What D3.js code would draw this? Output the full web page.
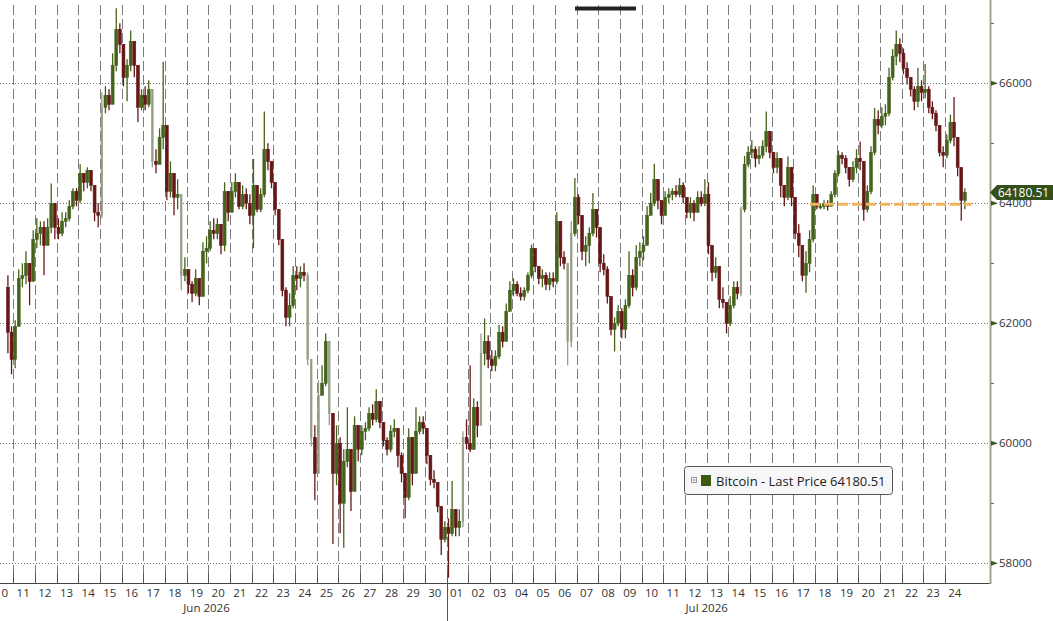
<!DOCTYPE html>
<html><head><meta charset="utf-8">
<script src="https://cdn.jsdelivr.net/npm/d3@7"></script>
<style>html,body{margin:0;padding:0;background:#fff;overflow:hidden}</style>
</head><body><svg id="chart" width="1053" height="621"></svg>
<script>
// ---------- data (4-hour bars, Bitcoin) ----------
const startTime = "2026-06-10T16:00:00Z";
const barHours = 4;
const firstOpen = 62600;
const closes = [
 61850,61400,
 61950,62750,62800,63000,62700,63400,
 63500,63600,63300,63600,64000,63600,
 63500,63700,63750,63950,64200,64050,
 64500,64350,64550,64300,63850,63800,
 65600,65800,65650,66300,66900,66650,
 66100,66300,66700,66300,65600,65800,
 65650,65900,64700,64650,65100,65300,
 64200,64500,64100,64150,62800,62900,
 62650,62500,62750,62450,63200,63250,
 63550,63500,63650,63300,64200,63850,
 64200,64350,63950,64150,64000,63800,
 64300,63900,64150,64900,64700,64350,
 63900,63400,62550,62100,62300,62800,
 62750,62850,62800,61400,60100,59500,
 60800,61000,61700,60500,59500,60000,
 59000,59700,59900,59200,60300,59900,
 60200,60250,60500,60400,60700,60350,
 60050,59900,60200,60250,59800,59500,
 59100,60100,59500,60200,60350,60250,
 59800,59400,59350,58950,58400,58600,
 58500,58900,58600,58700,60100,60000,
 59900,60600,60300,61500,61700,61400,
 61300,61450,61850,61700,62200,62550,
 62650,62500,62450,62550,62800,63250,
 62950,62750,62800,62650,62750,62700,
 63700,63100,63000,61700,63500,64100,
 63800,63200,63300,63500,63900,63600,
 63000,62900,62450,61900,62000,62200,
 61900,62300,62800,62600,63100,63200,
 63300,63800,64000,64400,64050,63800,
 64100,64150,64200,64150,64300,64100,
 63850,64000,63850,64100,64000,64150,
 63300,62850,62950,62400,62350,62000,
 62300,62600,62500,63900,64650,64850,
 64900,64750,64800,64950,65200,64850,
 64600,64750,64300,64100,64600,64100,
 63500,63300,62800,63000,63400,64150,
 63950,63950,63980,63950,64150,64500,
 64800,64750,64600,64400,64600,64750,
 64700,63900,64200,64850,65400,65300,
 65450,65500,66100,66450,66650,66500,
 66250,66100,65900,65700,65950,65850,
 65900,65600,65500,65300,64850,64800,
 65050,65350,65100,64600,64050,64180.51
];
const highs = [
 62800,61950,
 62050,62900,63000,63200,62950,63550,
 63750,63700,63700,63750,64330,63900,
 63750,63850,63850,64050,64250,64250,
 64650,64500,64600,64550,64300,64000,
 65850,65950,65900,66500,67250,67000,
 66500,66400,66880,66650,66100,65900,
 65950,66050,65800,64900,65250,66360,
 65200,64700,64500,64400,64100,63100,
 62850,62700,62900,62750,63350,63450,
 63700,63750,63750,63650,64350,64200,
 64350,64500,64300,64300,64250,64150,
 64740,64300,64250,65530,65000,64700,
 64350,63900,63400,62600,62500,62950,
 62950,62950,63000,62850,61400,60300,
 61050,61300,61830,61700,60500,60300,
 60100,59900,60600,59900,60450,60300,
 60300,60350,60600,60650,60900,60700,
 60300,60100,60300,60400,60250,59850,
 59500,60250,60050,60600,60450,60450,
 60250,59800,59550,59350,58950,58700,
 58750,59370,58900,58900,60200,60400,
 61300,60750,60700,61830,62080,61800,
 61550,61550,61970,61950,62330,62700,
 62750,62700,62600,62600,62850,63310,
 63250,62950,62900,62850,62850,62850,
 63850,63600,63200,63000,63700,64420,
 64150,63800,63450,63600,64170,63900,
 63600,63150,62950,62450,62100,62300,
 62250,62400,63200,62900,63300,63350,
 63450,63950,64170,64660,64400,64050,
 64200,64250,64250,64300,64420,64350,
 64100,64100,64050,64200,64200,64400,
 64350,63300,63100,62950,62600,62300,
 62450,62700,62700,63950,64790,64950,
 65050,64950,64950,65050,65530,65200,
 64850,64850,64700,64300,64780,64600,
 64100,63650,63300,63200,63550,64300,
 64150,64000,64050,64050,64200,64550,
 64880,64850,64800,64600,64700,64900,
 65030,64700,64300,64950,65590,65550,
 65600,65650,66260,66570,66880,66750,
 66580,66350,66100,65950,66260,66050,
 66320,65950,65700,65550,65300,64950,
 65150,65480,65770,65100,64600,64250
];
const lows = [
 61500,61150,
 61250,62000,62600,62650,62300,62700,
 63250,63300,62800,63350,63500,63400,
 63400,63450,63600,63700,63900,63950,
 64000,64200,64250,64200,63700,63600,
 63750,65500,65550,65650,66200,66500,
 65950,65700,66200,66100,65350,65550,
 65550,65600,64600,64500,64650,64900,
 64050,64100,63800,63900,62550,62700,
 62500,62350,62450,62300,62450,63000,
 63200,63400,63400,63150,63200,63700,
 63850,64100,63900,63900,63900,63650,
 63250,63850,63850,64100,64550,64250,
 63800,63300,62450,61950,61950,62250,
 62550,62600,62700,61300,59950,59050,
 59500,60800,60950,60300,58320,59300,
 58500,58260,59600,58870,59200,59700,
 59800,60050,60200,60300,60350,60250,
 59950,59800,59850,60100,59600,59350,
 58750,59050,59300,59500,60150,60150,
 59650,59300,59250,58850,58140,58350,
 57760,58450,58450,58450,58600,59900,
 59850,59950,60100,60300,61300,61250,
 61200,61200,61400,61600,61700,62200,
 62450,62450,62380,62380,62500,62750,
 62850,62650,62600,62550,62550,62600,
 62650,62950,62900,61300,61600,63450,
 63650,63050,62950,63000,63450,63430,
 62850,62800,62330,61800,61530,61950,
 61750,61750,62250,62450,62550,62950,
 63050,63300,63800,63950,63900,63650,
 63800,64000,64050,64100,64100,64000,
 63750,63750,63700,63850,63950,63950,
 63150,62700,62750,62250,62250,61830,
 61950,62250,62400,62450,63850,64600,
 64750,64600,64650,64750,64850,64750,
 64500,64500,64100,63950,64050,63950,
 63400,63100,62700,62510,62850,63350,
 63900,63900,63900,63880,63950,64100,
 64450,64650,64500,64280,64350,64500,
 64550,63710,63850,64150,64800,65150,
 65250,65300,65450,66050,66300,66350,
 66150,65980,65780,65550,65600,65700,
 65750,65500,65400,65200,64780,64600,
 64750,65000,64950,64450,63710,63900
];
const seriesName = "Bitcoin - Last Price";
const lastPrice = 64180.51;
const yMajorTicks = [58000, 60000, 62000, 64000, 66000];
const yMinorTicks = [59000, 61000, 63000, 65000, 67000];
const xDomain = ["2026-06-10T00:00:00Z", "2026-07-25T00:00:00Z"];
const dayTickRange = ["2026-06-11T00:00:00Z", "2026-07-25T00:00:00Z"];
const monthLabels = ["Jun 2026", "Jul 2026"];
const monthLabelDates = ["2026-06-19T22:00:00Z", "2026-07-13T00:00:00Z"];
const monthSeparator = "2026-07-01T00:00:00Z";
const supportLevel = 63985;
const supportRange = ["2026-07-17T18:30:00Z", "2026-07-25T05:30:00Z"];

// ---------- layout ----------
const W = 1053, H = 621;
const plotRight = 990, plotBottom = 583;
const FONT = "'Open Sans', 'DejaVu Sans', sans-serif";

const svg = d3.select("#chart");
const x = d3.scaleUtc().domain(xDomain.map(d => new Date(d))).range([-8.33, 966.67]);
const y = d3.scaleLinear().domain([57672, 67388]).range([plotBottom, 0]);

const t0 = new Date(startTime);
const bars = closes.map((c, i) => {
  const o = i === 0 ? firstOpen : closes[i - 1];
  const t = d3.utcHour.offset(t0, i * barHours);
  return { t, mid: d3.utcHour.offset(t, barHours / 2), o, c,
    h: Math.max(highs[i], o, c), l: Math.min(lows[i], o, c) };
});

svg.append("defs").append("clipPath").attr("id", "plotClip")
  .append("rect").attr("x", 0).attr("y", 0).attr("width", plotRight).attr("height", plotBottom);

// horizontal dotted grid
svg.append("g").selectAll("line").data(yMajorTicks).join("line")
  .attr("x1", 0).attr("x2", plotRight)
  .attr("y1", d => Math.round(y(d)) + 0.5).attr("y2", d => Math.round(y(d)) + 0.5)
  .attr("stroke", "#6e6e6e").attr("stroke-width", 1).attr("stroke-dasharray", "1,2");

// vertical dashed day grid
const days = d3.utcDay.range(new Date(dayTickRange[0]), new Date(dayTickRange[1]));
svg.append("g").selectAll("line").data(days).join("line")
  .attr("x1", d => Math.round(x(d)) + 0.5).attr("x2", d => Math.round(x(d)) + 0.5)
  .attr("y1", 5).attr("y2", plotBottom - 10)
  .attr("stroke", "#7c7c7c").attr("stroke-width", 1).attr("stroke-dasharray", "10,4");

// candles
const slot = x(d3.utcHour.offset(t0, barHours)) - x(t0);
const bw = slot * 0.8;
const cg = svg.append("g").attr("clip-path", "url(#plotClip)");
const isBig = b => Math.abs(b.c - b.o) > 1100;
const baseColor = b => b.c >= b.o ? "#45631a" : "#661818";
const colorOf = b => isBig(b) ? "#959d88" : baseColor(b);
const widthOf = b => isBig(b) ? 1.6 : bw;
cg.selectAll("line.wick").data(bars).join("line").attr("class", "wick")
  .attr("x1", b => x(b.mid)).attr("x2", b => x(b.mid))
  .attr("y1", b => y(b.h)).attr("y2", b => y(b.l))
  .attr("stroke", colorOf).attr("stroke-width", 1.3);
cg.selectAll("rect.body").data(bars).join("rect").attr("class", "body")
  .attr("x", b => x(b.mid) - widthOf(b) / 2).attr("width", widthOf)
  .attr("y", b => y(Math.max(b.o, b.c)))
  .attr("height", b => Math.max(1.5, Math.abs(y(b.o) - y(b.c))))
  .attr("fill", colorOf).attr("stroke", colorOf).attr("stroke-width", 0.6);

// support dashed orange line
svg.append("line")
  .attr("x1", x(new Date(supportRange[0]))).attr("x2", x(new Date(supportRange[1])))
  .attr("y1", y(supportLevel)).attr("y2", y(supportLevel))
  .attr("stroke", "#f0b45c").attr("stroke-width", 3).attr("stroke-dasharray", "10,4");

// bottom axis
const xAxisG = svg.append("g");
xAxisG.append("line").attr("x1", 0).attr("x2", plotRight)
  .attr("y1", plotBottom + 0.5).attr("y2", plotBottom + 0.5).attr("stroke", "#444");
xAxisG.selectAll("line.tick").data(days).join("line").attr("class", "tick")
  .attr("x1", d => Math.round(x(d)) + 0.5).attr("x2", d => Math.round(x(d)) + 0.5)
  .attr("y1", plotBottom - 10).attr("y2", plotBottom)
  .attr("stroke", "#555");
const sepX = Math.round(x(new Date(monthSeparator))) + 0.5;
xAxisG.append("line").attr("x1", sepX).attr("x2", sepX)
  .attr("y1", plotBottom - 10).attr("y2", H).attr("stroke", "#555");
const labelDays = d3.utcDay.range(new Date(xDomain[0]), new Date(dayTickRange[1]));
xAxisG.selectAll("text.day").data(labelDays).join("text").attr("class", "day")
  .attr("x", d => x(d3.utcHour.offset(d, 12)) - 1).attr("y", 597)
  .attr("text-anchor", "middle").attr("font-family", FONT).attr("font-size", 11.5)
  .attr("fill", "#333").text(d3.utcFormat("%d"));
xAxisG.selectAll("text.month").data(monthLabels).join("text").attr("class", "month")
  .attr("x", (d, i) => x(new Date(monthLabelDates[i]))).attr("y", 612)
  .attr("text-anchor", "middle").attr("font-family", FONT).attr("font-size", 11.5)
  .attr("fill", "#333").text(d => d);

// right axis
const yAxisG = svg.append("g");
yAxisG.append("line").attr("x1", plotRight + 0.5).attr("x2", plotRight + 0.5)
  .attr("y1", 0).attr("y2", plotBottom + 1).attr("stroke", "#9ea590").attr("stroke-width", 2);
yAxisG.selectAll("path.major").data(yMajorTicks).join("path").attr("class", "major")
  .attr("d", d => `M${plotRight + 1},${y(d) - 2.5}L${plotRight + 8},${y(d)}L${plotRight + 1},${y(d) + 2.5}Z`)
  .attr("fill", "#3f5a22");
yAxisG.selectAll("line.minor").data(yMinorTicks).join("line").attr("class", "minor")
  .attr("x1", plotRight + 1).attr("x2", plotRight + 4)
  .attr("y1", d => Math.round(y(d)) + 0.5).attr("y2", d => Math.round(y(d)) + 0.5)
  .attr("stroke", "#666");
yAxisG.selectAll("text").data(yMajorTicks).join("text")
  .attr("x", plotRight + 9).attr("y", d => y(d)).attr("dy", "0.35em")
  .attr("font-family", FONT).attr("font-size", 11.5).attr("fill", "#333").text(d => d);

// last price tag
const ly = y(lastPrice);
svg.append("path")
  .attr("d", `M${plotRight},${ly}L${plotRight + 7},${ly - 7.5}L${W},${ly - 7.5}L${W},${ly + 7.5}L${plotRight + 7},${ly + 7.5}Z`)
  .attr("fill", "#33501a");
svg.append("text").attr("x", plotRight + 8).attr("y", ly).attr("dy", "0.36em")
  .attr("font-family", FONT).attr("font-size", 12).attr("fill", "#fff")
  .text(d3.format(".2f")(lastPrice));

// legend
const lg = svg.append("g").attr("transform", "translate(684,466)");
lg.append("rect").attr("x", 0.5).attr("y", 0.5).attr("width", 208).attr("height", 28)
  .attr("rx", 3).attr("fill", "#f7f7f7").attr("stroke", "#555");
lg.append("rect").attr("x", 7.5).attr("y", 11.5).attr("width", 5).attr("height", 5)
  .attr("fill", "#fff").attr("stroke", "#999");
lg.append("line").attr("x1", 8.5).attr("x2", 11.5).attr("y1", 14).attr("y2", 14).attr("stroke", "#999");
lg.append("line").attr("x1", 10).attr("x2", 10).attr("y1", 12.5).attr("y2", 15.5).attr("stroke", "#999");
lg.append("rect").attr("x", 17).attr("y", 9).attr("width", 10).attr("height", 11).attr("fill", "#3b5c0e");
lg.append("text").attr("x", 32).attr("y", 19.5)
  .attr("font-family", FONT).attr("font-size", 13).attr("fill", "#222")
  .text(`${seriesName} ${d3.format(".2f")(lastPrice)}`);

// top tab marker
svg.append("rect").attr("x", 575).attr("y", 6.5).attr("width", 61).attr("height", 4).attr("fill", "#222");
</script>
</body></html>
